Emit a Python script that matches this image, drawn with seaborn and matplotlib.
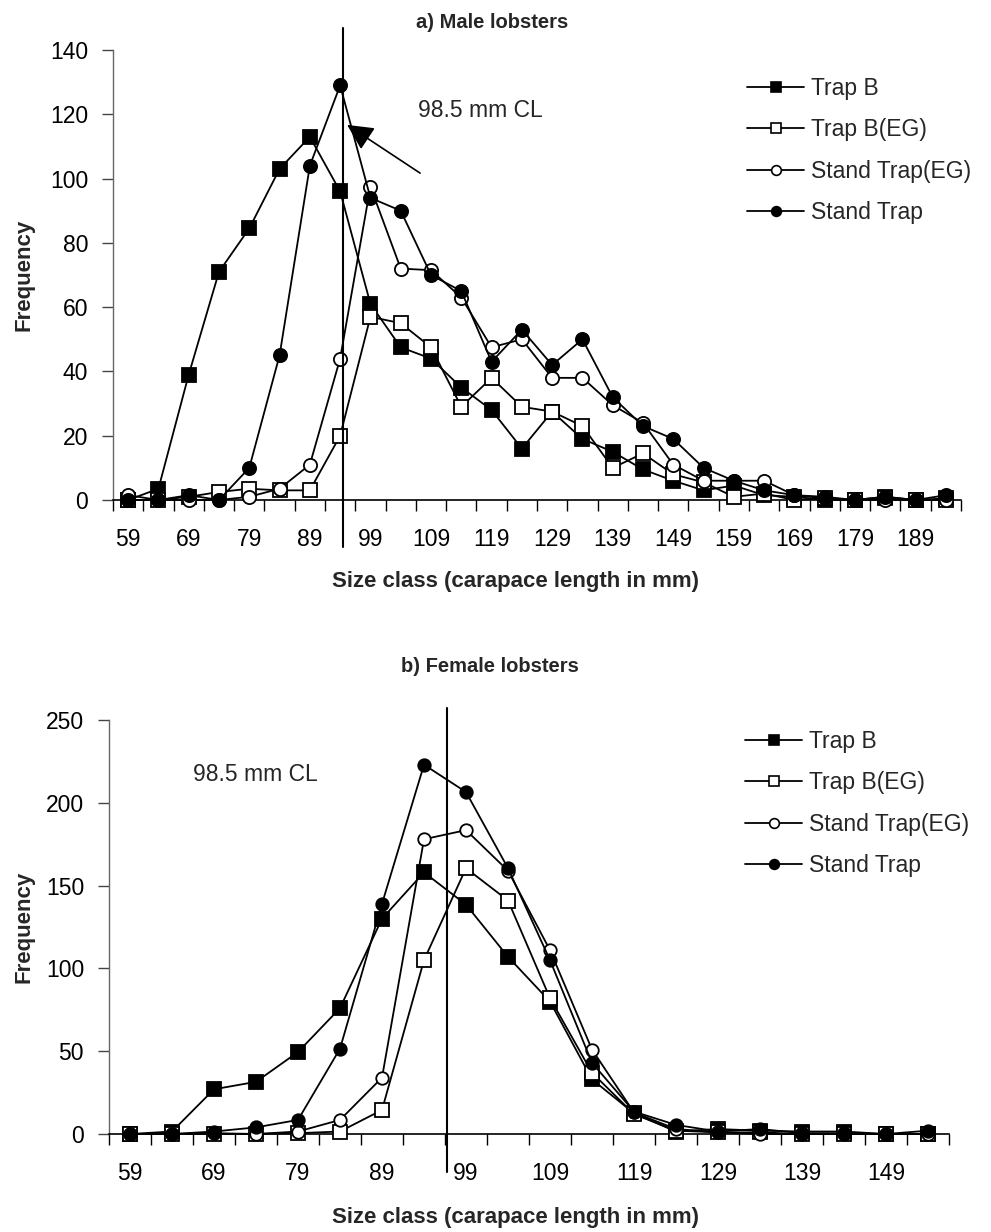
import matplotlib
matplotlib.use("Agg")
import numpy as np
import pandas as pd
import matplotlib.pyplot as plt
import seaborn as sns
from matplotlib.lines import Line2D

# Size classes (lower bound of each 5 mm carapace-length class)
male_sizes = [59, 64, 69, 74, 79, 84, 89, 94, 99, 104, 109, 114, 119, 124,
              129, 134, 139, 144, 149, 154, 159, 164, 169, 174, 179, 184, 189, 194]
female_sizes = [59, 64, 69, 74, 79, 84, 89, 94, 99, 104, 109, 114, 119, 124,
                129, 134, 139, 144, 149, 154]

series_names = ["Trap B", "Trap B(EG)", "Stand Trap(EG)", "Stand Trap"]

# Male catch frequencies per size class
male_trap_b = [0, 3.5, 39, 71, 84.5, 103, 113, 96, 61, 47.5, 44, 35, 28, 16,
               27.5, 19, 15, 9.5, 6, 3, 4.5, 1.5, 1, 0, 0, 1, 0, 0.5]
male_trap_b_eg = [0, 0, 1, 2.5, 3.5, 3, 3, 20, 57, 55, 47.5, 29, 38, 29,
                  27.5, 23, 10, 14.5, 8, 5.5, 1, 2, 0, 0.5, 0, 0.5, 0, 0]
male_stand_eg = [1.5, 0, 0, 0, 1, 3.5, 11, 44, 97.5, 72, 71.5, 63, 47.5, 50,
                 38, 38, 29.5, 24, 11, 6, 6, 6, 1.5, 0.5, 0, 0, 0, 0]
male_stand = [0, 0, 1.5, 0, 10, 45, 104, 129, 94, 90, 70, 65, 43, 53,
              42, 50, 32, 23, 19, 10, 6, 3, 1.5, 1, 0, 1, 0, 1.5]

# Female catch frequencies per size class
female_trap_b = [0, 1.5, 27, 31.5, 49.5, 76, 130, 158, 138.5, 107, 80, 33, 12.5,
                 1.5, 3, 2, 1.5, 1.5, 0, 0]
female_trap_b_eg = [0, 0, 0, 0, 0.5, 1.5, 14.5, 105, 160.5, 141, 82, 37, 12,
                    2, 1, 1, 0, 0, 0, 0]
female_stand_eg = [0, 0, 0.5, 0, 1.5, 8.5, 34, 178, 183.5, 159, 111, 51, 13,
                   3, 1, 0, 0, 0, 0, 0]
female_stand = [0, 0, 1.5, 4, 8.5, 51.5, 139, 223, 206.5, 160.5, 105, 43, 13.5,
                5.5, 1.5, 3, 0.5, 0.5, 0, 2]

male = dict(zip(series_names, [male_trap_b, male_trap_b_eg, male_stand_eg, male_stand]))
female = dict(zip(series_names, [female_trap_b, female_trap_b_eg, female_stand_eg, female_stand]))

marker_style = {
    "Trap B": ("s", "black"),
    "Trap B(EG)": ("s", "white"),
    "Stand Trap(EG)": ("o", "white"),
    "Stand Trap": ("o", "black"),
}

sns.set_theme(style="white")
plt.rcParams["font.family"] = ["Liberation Sans", "DejaVu Sans"]

W, H = 991, 1232
fig = plt.figure(figsize=(W / 100, H / 100), dpi=100)


def draw_panel(ax, sizes, data, ymax, ystep, sq_ms, ci_ms):
    idx = np.arange(len(sizes))
    for name in series_names:
        marker, face = marker_style[name]
        df = pd.DataFrame({"idx": idx, "freq": data[name]})
        sns.lineplot(data=df, x="idx", y="freq", ax=ax, color="black",
                     linewidth=1.3, marker=marker,
                     markersize=sq_ms if marker == "s" else ci_ms,
                     mfc=face, mec="black", mew=1.3, errorbar=None,
                     clip_on=False, legend=False, zorder=3)
    n = len(sizes)
    ax.set_xlim(-0.5, n - 0.5)
    ax.set_ylim(0, ymax)
    ax.set_xticks(np.arange(-0.5, n, 1.0))
    ax.set_xticklabels([])
    ax.set_xticks(idx[::2], minor=True)
    ax.set_xticklabels([str(s) for s in sizes[::2]], minor=True)
    ax.set_yticks(np.arange(0, ymax + 1, ystep))
    ax.tick_params(axis="x", which="major", bottom=True, length=8, width=1,
                   direction="out", color="black")
    ax.tick_params(axis="x", which="minor", bottom=True, length=0, pad=20,
                   labelsize=16.5, labelcolor="black")
    ax.tick_params(axis="y", which="major", left=True, length=8, width=1,
                   direction="out", pad=10, labelsize=16.5, labelcolor="black",
                   color="#444444")
    for s in ("top", "right"):
        ax.spines[s].set_visible(False)
    ax.spines["left"].set_color("#666666")
    ax.spines["left"].set_linewidth(1.0)
    ax.spines["bottom"].set_color("black")
    ax.spines["bottom"].set_linewidth(1.2)
    ax.set_xlabel("")
    ax.set_ylabel("")
    ax.set_facecolor("white")

    handles = []
    for name in series_names:
        marker, face = marker_style[name]
        handles.append(Line2D([0], [0], color="black", lw=1.3, marker=marker,
                              markersize=7, mfc=face, mec="black", mew=1.2))
    return handles


legend_kw = dict(frameon=False, fontsize=16.5, handlelength=2.5, handletextpad=0.3,
                 labelspacing=0.8, borderpad=0, borderaxespad=0, loc="upper left")

# a) Male lobsters
ax1 = fig.add_axes([113 / W, 1 - 500 / H, 848 / W, 450 / H])
h1 = draw_panel(ax1, male_sizes, male, 140, 20, 10.5, 9.5)
ax1.axvline(7.1, ymin=-0.104, ymax=1.049, color="black", lw=1.5, clip_on=False, zorder=4)
ax1.text(9.57, 121.3, "98.5 mm CL", fontsize=16.5, ha="left", va="center")
ax1.annotate("", xy=(7.23, 116.7), xytext=(9.64, 101.7),
             arrowprops=dict(arrowstyle="-|>,head_length=0.8,head_width=0.4",
                             color="black", lw=1.2, mutation_scale=20,
                             shrinkA=0, shrinkB=0))
ax1.legend(handles=h1, labels=series_names,
           bbox_to_anchor=(747 / W, 1 - 77 / H), bbox_transform=fig.transFigure,
           **legend_kw)

# b) Female lobsters
ax2 = fig.add_axes([109 / W, 1 - 1134 / H, 840 / W, 414 / H])
h2 = draw_panel(ax2, female_sizes, female, 250, 50, 10, 9)
ax2.axvline(7.55, ymin=-0.092, ymax=1.029, color="black", lw=1.5, clip_on=False, zorder=4)
ax2.text(1.5, 216.8, "98.5 mm CL", fontsize=16.5, ha="left", va="center")
ax2.legend(handles=h2, labels=series_names,
           bbox_to_anchor=(745 / W, 1 - 730 / H), bbox_transform=fig.transFigure,
           **legend_kw)

# Panel titles and axis titles
bold = dict(fontweight="bold", ha="center", va="center")
fig.text(492 / W, 1 - 22 / H, "a) Male lobsters", fontsize=14.5, **bold)
fig.text(490 / W, 1 - 667 / H, "b) Female lobsters", fontsize=14.5, **bold)
fig.text(515 / W, 1 - 582 / H, "Size class (carapace length in mm)", fontsize=16, **bold)
fig.text(515 / W, 1 - 1217 / H, "Size class (carapace length in mm)", fontsize=16, **bold)
fig.text(24 / W, 1 - 275 / H, "Frequency", rotation=90, fontsize=16, **bold)
fig.text(24 / W, 1 - 927 / H, "Frequency", rotation=90, fontsize=16, **bold)

fig.savefig("out.png", dpi=100, facecolor="white")
